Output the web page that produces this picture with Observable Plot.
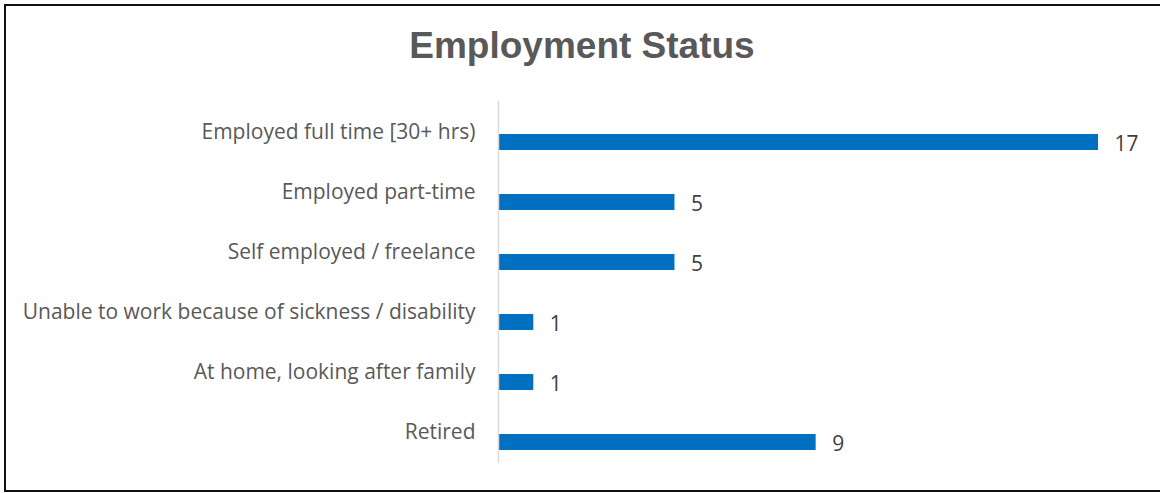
<!DOCTYPE html>
<html>
<head>
<meta charset="utf-8">
<script src="https://cdn.jsdelivr.net/npm/d3@7"></script>
<script src="https://cdn.jsdelivr.net/npm/@observablehq/plot@0.6"></script>
<style>
  html, body { margin: 0; padding: 0; background: #fff; overflow: hidden; }
  #wrap { position: relative; width: 1160px; height: 493px; overflow: hidden; }
  #frame { position: absolute; left: 4px; top: 4px; width: 1160px; height: 484px; border: 2px solid #111; box-sizing: content-box; }
  #title { position: absolute; left: 0; width: 1164px; top: 25px; text-align: center;
           font-family: "Liberation Sans", Arial, sans-serif; font-weight: bold; font-size: 37px; color: #595959; }
  #chart { position: absolute; left: 0; top: 0; }
</style>
</head>
<body>
<div id="wrap">
  <div id="frame"></div>
  <div id="title">Employment Status</div>
  <div id="chart"></div>
</div>
<script>
const categories = [
  "Employed full time [30+ hrs)",
  "Employed part-time",
  "Self employed / freelance",
  "Unable to work because of sickness / disability",
  "At home, looking after family",
  "Retired"
];
const counts = [17, 5, 5, 1, 1, 9];

const data = categories.map((c, i) => ({category: c, count: counts[i]}));

const plot = Plot.plot({
  width: 1160,
  height: 493,
  marginLeft: 498,
  marginRight: 62,
  marginTop: 101,
  marginBottom: 30,
  style: {fontFamily: "'Open Sans', sans-serif", fontSize: "21px", color: "#595959", background: "transparent"},
  x: {domain: [0, 17], axis: null},
  y: {domain: categories, padding: 0, label: null},
  marks: [
    Plot.axisY({tickSize: 0, tickPadding: 23, fontSize: 21, fill: "#595959"}),
    Plot.barX(data, {x: "count", y: "category", fill: "#0070C0", insetTop: 32, insetBottom: 12}),
    Plot.ruleX([0], {stroke: "#d9d9d9", strokeWidth: 1.5}),
    Plot.text(data, {x: "count", y: "category", text: d => String(d.count), textAnchor: "start", dx: 16, dy: 12, fontSize: 21, fill: "#404040"})
  ]
});
document.getElementById("chart").appendChild(plot);
</script>
</body>
</html>
